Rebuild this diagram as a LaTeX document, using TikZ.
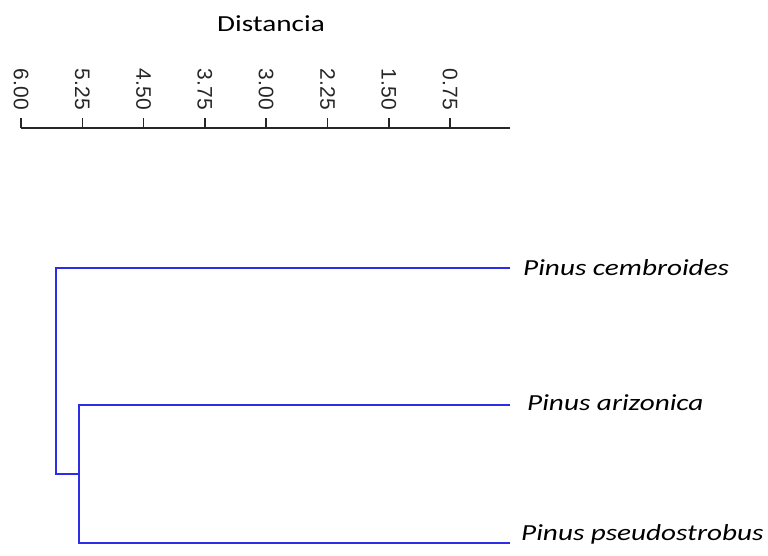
\documentclass[tikz,border=0pt]{standalone}
\usepackage{fontspec}
\setmainfont{Carlito}
\newfontfamily\ticksfont{Liberation Sans}
\definecolor{treeblue}{RGB}{45,45,230}
\begin{document}
\begin{tikzpicture}[x=1pt,y=-1pt,
  axisline/.style={line width=1.5pt,black!85},
  branch/.style={line width=2.4pt,treeblue},
  ticklabel/.style={rotate=-90,anchor=east,inner sep=0pt,font=\ticksfont\fontsize{21}{22}\selectfont,text=black!85},
  leaflabel/.style={anchor=base west,inner sep=0pt,font=\itshape\fontsize{23}{26}\selectfont},
  titlelabel/.style={anchor=base west,inner sep=0pt,font=\fontsize{23}{26}\selectfont}]
\useasboundingbox (0,0) rectangle (768,556);
% title
\node[titlelabel] (title) at (217,32) {\scalebox{1.27}[1]{Distancia}};
% axis
\coordinate (axL) at (21,128);
\coordinate (axR) at (510,128);
\draw[axisline] (axL) -- (axR);
\foreach \i/\lab in {0/6.00,1/5.25,2/4.50,3/3.75,4/3.00,5/2.25,6/1.50,7/0.75}{
  \coordinate (tk\i) at ({21+61.3*\i},128);
  \coordinate (tt\i) at ({21+61.3*\i},118);
  \draw[axisline] (tk\i) -- (tt\i);
  \node[ticklabel] (tl\i) at ({21+61.3*\i},110) {\lab};
}
% leaves
\node[leaflabel] (cem) at (523,275) {\scalebox{1.27}[1]{Pinus cembroides}};
\node[leaflabel] (ari) at (527,410) {\scalebox{1.27}[1]{Pinus arizonica}};
\node[leaflabel] (pse) at (521,540) {\scalebox{1.27}[1]{Pinus pseudostrobus}};
% tree points
\coordinate (cemEnd) at (510,268);
\coordinate (ariEnd) at (510,405);
\coordinate (pseEnd) at (510,543);
\coordinate (rootTop) at (56,268);
\coordinate (rootBot) at (56,474);
\coordinate (innMid) at (79,474);
\coordinate (innTop) at (79,405);
\coordinate (innBot) at (79,543);
\draw[branch] (cemEnd) -- (rootTop) -- (rootBot) -- (innMid);
\draw[branch] (ariEnd) -- (innTop) -- (innBot) -- (pseEnd);
\end{tikzpicture}
\end{document}
